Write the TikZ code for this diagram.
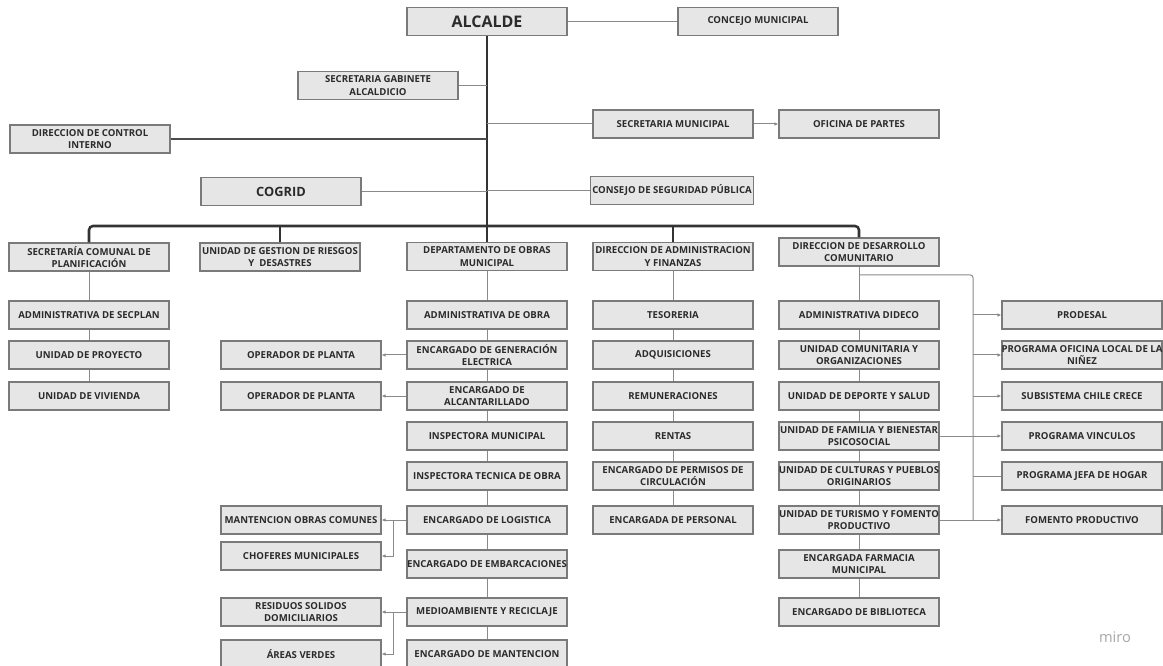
\documentclass[tikz,border=0pt]{standalone}
\usepackage{fontspec}
\setmainfont{Open Sans}
\usetikzlibrary{arrows.meta}
\definecolor{boxfill}{HTML}{E6E6E6}
\definecolor{boxline}{HTML}{7A7A7A}
\definecolor{txtgray}{HTML}{2B2B2B}
\definecolor{linkgray}{HTML}{8A8A8A}
\definecolor{spinegray}{HTML}{333333}

\begin{document}
\begin{tikzpicture}[x=0.75pt,y=0.75pt,yscale=-1,xscale=1,
  orgbox/.style={draw=boxline,fill=boxfill,line width=0.8pt,minimum width=120pt,minimum height=21pt,inner sep=1pt,align=center,text=txtgray,font=\fontsize{7.2}{9.3}\selectfont\bfseries},
  mainline/.style={draw=spinegray,line width=1.9pt},
  subline/.style={draw=linkgray,line width=0.75pt},
  subarrow/.style={subline,-{Latex[length=3pt,width=2.6pt]}}]
%set diagram size: 1163 x 666
\useasboundingbox (0,0) rectangle (1163,666);

% Text Node
\node[orgbox,font=\fontsize{12}{14}\selectfont\bfseries] (alcalde) at (487,21.5) {ALCALDE};
% Text Node
\node[orgbox] (concejo) at (758,21.5) {CONCEJO MUNICIPAL};
% Text Node
\node[orgbox] (gabinete) at (378,85.5) {SECRETARIA GABINETE\\ALCALDICIO};
% Text Node
\node[orgbox] (secmun) at (673,124) {SECRETARIA MUNICIPAL};
% Text Node
\node[orgbox] (oficina) at (859,124) {OFICINA DE PARTES};
% Text Node
\node[orgbox] (control) at (90,139) {DIRECCION DE CONTROL\\INTERNO};
% Text Node
\node[orgbox,font=\fontsize{9.6}{11}\selectfont\bfseries] (cogrid) at (281,191.5) {COGRID};
% Text Node
\node[orgbox] (consejo) at (672,190.5) {CONSEJO DE SEGURIDAD PÚBLICA};

% Text Node
\node[orgbox] (secplan) at (89,257) {SECRETARÍA COMUNAL DE\\PLANIFICACIÓN};
% Text Node
\node[orgbox] (riesgos) at (280,257) {UNIDAD DE GESTION DE RIESGOS\\Y\ \ DESASTRES};
% Text Node
\node[orgbox] (obras) at (487,256.5) {DEPARTAMENTO DE OBRAS\\MUNICIPAL};
% Text Node
\node[orgbox] (admfin) at (673,256.5) {DIRECCION DE ADMINISTRACION\\Y FINANZAS};
% Text Node
\node[orgbox] (dideco) at (859,252) {DIRECCION DE DESARROLLO\\COMUNITARIO};

% Text Node
\node[orgbox] (admsec) at (89,315) {ADMINISTRATIVA DE SECPLAN};
\node[orgbox] (proyecto) at (89,355) {UNIDAD DE PROYECTO};
\node[orgbox] (vivienda) at (89,396) {UNIDAD DE VIVIENDA};

% Text Node
\node[orgbox] (operador1) at (301,355) {OPERADOR DE PLANTA};
\node[orgbox] (operador2) at (301,396) {OPERADOR DE PLANTA};
\node[orgbox] (mantobras) at (301,520) {MANTENCION OBRAS COMUNES};
\node[orgbox] (choferes) at (301,556) {CHOFERES MUNICIPALES};
\node[orgbox] (residuos) at (301,612) {RESIDUOS SOLIDOS\\DOMICILIARIOS};
\node[orgbox] (areas) at (301,654) {ÁREAS VERDES};

% Text Node
\node[orgbox] (admobra) at (487,315) {ADMINISTRATIVA DE OBRA};
\node[orgbox] (genelec) at (487,355) {ENCARGADO DE GENERACIÓN\\ELECTRICA};
\node[orgbox] (alcant) at (487,396) {ENCARGADO DE\\ALCANTARILLADO};
\node[orgbox] (inspmun) at (487,436) {INSPECTORA MUNICIPAL};
\node[orgbox] (insptec) at (487,476) {INSPECTORA TECNICA DE OBRA};
\node[orgbox] (logist) at (487,520) {ENCARGADO DE LOGISTICA};
\node[orgbox] (embarc) at (487,564) {\makebox[112pt]{ENCARGADO DE EMBARCACIONES}};
\node[orgbox] (medio) at (487,612) {MEDIOAMBIENTE Y RECICLAJE};
\node[orgbox] (mantencion) at (487,654) {ENCARGADO DE MANTENCION};

% Text Node
\node[orgbox] (tesoreria) at (673,315) {TESORERIA};
\node[orgbox] (adquis) at (673,355) {ADQUISICIONES};
\node[orgbox] (remun) at (673,396) {REMUNERACIONES};
\node[orgbox] (rentas) at (673,436) {RENTAS};
\node[orgbox] (permisos) at (673,476) {ENCARGADO DE PERMISOS DE\\CIRCULACIÓN};
\node[orgbox] (personal) at (673,520) {ENCARGADA DE PERSONAL};

% Text Node
\node[orgbox] (admdideco) at (859,315) {ADMINISTRATIVA DIDECO};
\node[orgbox] (comunit) at (859,355) {UNIDAD COMUNITARIA Y\\ORGANIZACIONES};
\node[orgbox] (deporte) at (859,396) {UNIDAD DE DEPORTE Y SALUD};
\node[orgbox] (familia) at (859,436) {\makebox[112pt]{UNIDAD DE FAMILIA Y BIENESTAR}\\PSICOSOCIAL};
\node[orgbox] (culturas) at (859,476) {\makebox[112pt]{UNIDAD DE CULTURAS Y PUEBLOS}\\ORIGINARIOS};
\node[orgbox] (turismo) at (859,520) {\makebox[112pt]{UNIDAD DE TURISMO Y FOMENTO}\\PRODUCTIVO};
\node[orgbox] (farmacia) at (859,564) {ENCARGADA FARMACIA\\MUNICIPAL};
\node[orgbox] (biblioteca) at (859,612) {ENCARGADO DE BIBLIOTECA};

% Text Node
\node[orgbox] (prodesal) at (1082,315) {PRODESAL};
\node[orgbox] (ninez) at (1082,355) {\makebox[112pt]{PROGRAMA OFICINA LOCAL DE LA}\\NIÑEZ};
\node[orgbox] (chilecrece) at (1082,396) {SUBSISTEMA CHILE CRECE};
\node[orgbox] (vinculos) at (1082,436) {PROGRAMA VINCULOS};
\node[orgbox] (jefahogar) at (1082,476) {PROGRAMA JEFA DE HOGAR};
\node[orgbox] (fomento) at (1082,520) {FOMENTO PRODUCTIVO};

% Text Node
\node[text=black!35,font=\fontsize{11}{13}\selectfont] (miro) at (1115,637) {miro};

% main line
\coordinate (bus) at (487,226);
\draw[mainline] (alcalde.south) -- (obras.north);
\draw[mainline,rounded corners=3pt] (secplan.north) |- (bus) -| (dideco.north);
\foreach \n in {riesgos,admfin}
  \draw[mainline] (\n.north) -- (\n.north |- bus);

% side lines
\draw[subline] (alcalde.east) -- (concejo.west);
\draw[subline] (gabinete.east) -- (gabinete.east -| alcalde.south);
\draw[subline] (secmun.west) -- (secmun.west -| alcalde.south);
\draw[subarrow] (secmun.east) -- (oficina.west);
\draw[subline,draw=black!70,line width=1.1pt] (control.east) -- (control.east -| alcalde.south);
\draw[subline,line width=1.1pt] (cogrid.east) -- (cogrid.east -| alcalde.south);
\draw[subline,line width=1.1pt] (consejo.west) -- (consejo.west -| alcalde.south);

% columns
\foreach \a/\b in {secplan/admsec,admsec/proyecto,proyecto/vivienda,
    obras/admobra,admobra/genelec,genelec/alcant,alcant/inspmun,inspmun/insptec,insptec/logist,logist/embarc,embarc/medio,medio/mantencion,
    admfin/tesoreria,tesoreria/adquis,adquis/remun,remun/rentas,rentas/permisos,permisos/personal,
    dideco/admdideco,admdideco/comunit,comunit/deporte,deporte/familia,familia/culturas,culturas/turismo,turismo/farmacia,farmacia/biblioteca}
  \draw[subline] (\a.south) -- (\b.north);

% obras branches
\draw[subarrow] (genelec.west) -- (operador1.east);
\draw[subarrow] (alcant.west) -- (operador2.east);
\draw[subarrow] (logist.west) -- (mantobras.east);
\draw[subarrow] ([xshift=9pt]mantobras.east) |- (choferes.east);
\draw[subarrow] (medio.west) -- (residuos.east);
\draw[subarrow] ([xshift=9pt]residuos.east) |- (areas.east);

% dideco programs
\coordinate (progbus) at (973,275);
\draw[subline,rounded corners=2pt] (dideco.south |- progbus) -- (progbus) -- (progbus |- fomento.west);
\foreach \n in {prodesal,ninez,chilecrece}
  \draw[subarrow] (\n.west -| progbus) -- (\n.west);
\draw[subline] (jefahogar.west -| progbus) -- (jefahogar.west);
\draw[subarrow] (familia.east) -- (vinculos.west);
\draw[subarrow] (turismo.east) -- (fomento.west);

\end{tikzpicture}
\end{document}
